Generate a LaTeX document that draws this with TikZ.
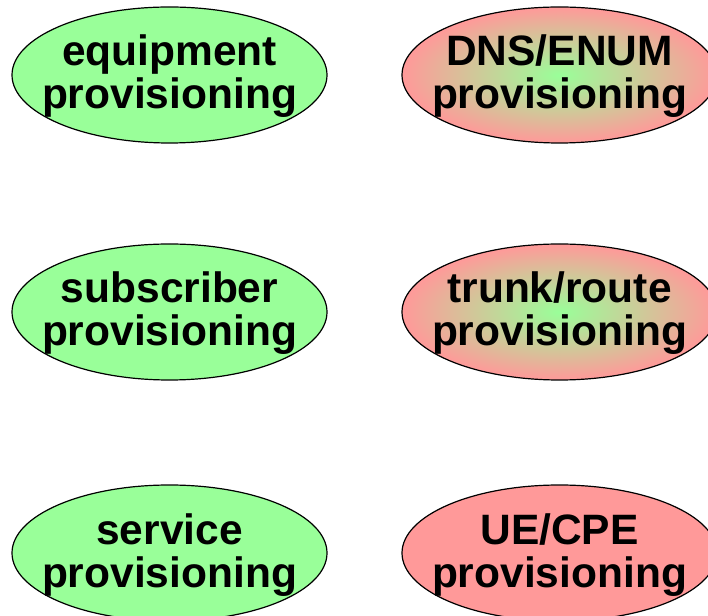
\documentclass[tikz,border=0pt]{standalone}
\usepackage{fontspec}
\setmainfont{Liberation Sans}
\usetikzlibrary{shapes.geometric}
\definecolor{provgreen}{RGB}{153,255,153}
\definecolor{provred}{RGB}{255,153,153}
\tikzset{
  oval/.style={ellipse, draw=black, line width=1.2pt, inner sep=0pt,
               minimum width=315pt, minimum height=136pt},
  greenoval/.style={oval, fill=provgreen},
  redoval/.style={oval, fill=provred},
  mixoval/.style={oval, inner color=provgreen, outer color=provred},
  label/.style={inner sep=0pt, anchor=base,
                font=\fontsize{42.5}{42.5}\selectfont\bfseries}
}
\begin{document}
\begin{tikzpicture}[x=1pt,y=1pt]
  \clip (0,0) rectangle (708,615);
  \fill[white] (0,0) rectangle (708,615);

  % left column: green ovals
  \node[greenoval] (equip) at (169.5,540) {};
  \node[greenoval] (subs)  at (169.5,303) {};
  \node[greenoval] (serv)  at (169.5,62)  {};

  % right column: shaded and plain red ovals
  \node[mixoval] (dns)   at (559.5,540) {};
  \node[mixoval] (trunk) at (559.5,303) {};
  \node[redoval] (ue)    at (559.5,62)  {};

  % two-line labels
  \node[label] (equipA) at ([yshift=9pt]equip.center)  {equipment};
  \node[label] (equipB) at ([yshift=-34pt]equip.center) {provisioning};
  \node[label] (subsA)  at ([yshift=9pt]subs.center)   {subscriber};
  \node[label] (subsB)  at ([yshift=-34pt]subs.center)  {provisioning};
  \node[label] (servA)  at ([yshift=9pt]serv.center)   {service};
  \node[label] (servB)  at ([yshift=-34pt]serv.center)  {provisioning};

  \node[label] (dnsA)   at ([yshift=9pt]dns.center)    {DNS/ENUM};
  \node[label] (dnsB)   at ([yshift=-34pt]dns.center)   {provisioning};
  \node[label] (trunkA) at ([yshift=9pt]trunk.center)  {trunk/route};
  \node[label] (trunkB) at ([yshift=-34pt]trunk.center) {provisioning};
  \node[label] (ueA)    at ([yshift=9pt]ue.center)     {UE/CPE};
  \node[label] (ueB)    at ([yshift=-34pt]ue.center)    {provisioning};
\end{tikzpicture}
\end{document}
